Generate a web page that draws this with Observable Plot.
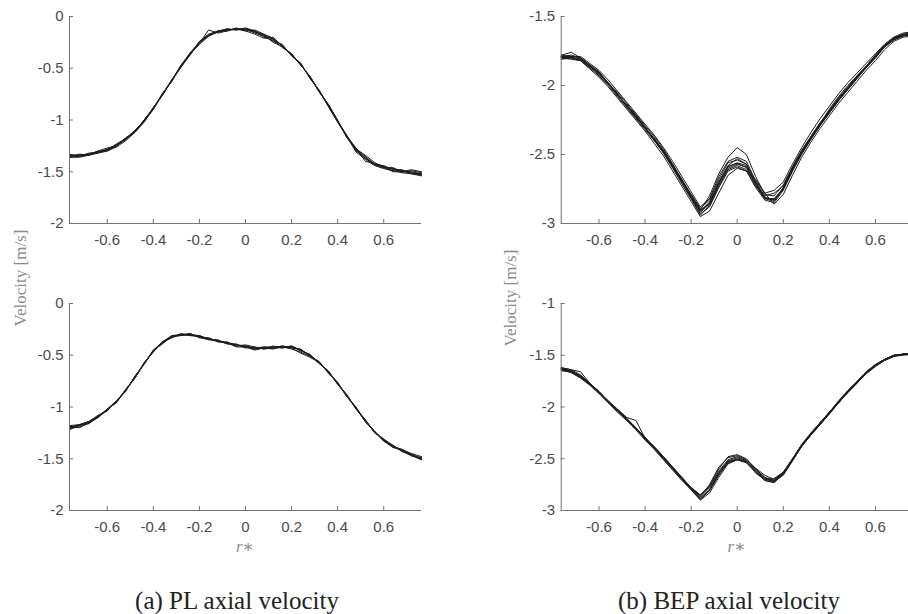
<!DOCTYPE html>
<html>
<head>
<meta charset="utf-8">
<script src="https://cdn.jsdelivr.net/npm/d3@7"></script>
<script src="https://cdn.jsdelivr.net/npm/@observablehq/plot@0.6"></script>
<style>
  html, body { margin: 0; padding: 0; background: #fff; }
  #wrap { position: relative; width: 908px; height: 614px; overflow: hidden; background: #fff; }
  .panel { position: absolute; }
  .lbl { position: absolute; transform: translate(-50%, -50%); white-space: nowrap; line-height: 1; }
  .ylab { font-family: "Liberation Serif", "DejaVu Serif", serif; font-size: 17px; color: #8a8a8a; }
  .xlab { font-family: "Liberation Serif", "DejaVu Serif", serif; font-size: 17px; color: #8a8a8a; }
  .cap { font-family: "Liberation Serif", "DejaVu Serif", serif; font-size: 25px; color: #222; }
</style>
</head>
<body>
<div id="wrap"></div>
<script>
// ---------- data ----------
const rStar = [-0.764,-0.72,-0.68,-0.64,-0.60,-0.56,-0.52,-0.48,-0.44,-0.40,-0.36,-0.32,-0.28,-0.24,-0.20,-0.16,-0.12,-0.08,-0.04,0,0.04,0.08,0.12,0.16,0.20,0.24,0.28,0.32,0.36,0.40,0.44,0.48,0.52,0.56,0.60,0.64,0.68,0.72,0.764];

const xTicks = [-0.6,-0.4,-0.2,0,0.2,0.4,0.6];
const yTicksPL = [0,-0.5,-1,-1.5,-2];
const yTicksBEPTop = [-1.5,-2,-2.5,-3];
const yTicksBEPBottom = [-1,-1.5,-2,-2.5,-3];

// (a) PL axial velocity, top
const plTop = [
  [-1.35,-1.345,-1.335,-1.31,-1.285,-1.25,-1.18,-1.11,-1.01,-0.885,-0.75,-0.62,-0.48,-0.36,-0.245,-0.18,-0.15,-0.13,-0.12,-0.125,-0.145,-0.18,-0.22,-0.28,-0.37,-0.46,-0.59,-0.72,-0.86,-1.01,-1.16,-1.29,-1.37,-1.42,-1.45,-1.47,-1.49,-1.51,-1.52],
  [-1.36,-1.35,-1.33,-1.32,-1.28,-1.26,-1.17,-1.12,-1.00,-0.89,-0.74,-0.63,-0.47,-0.37,-0.24,-0.17,-0.14,-0.12,-0.13,-0.12,-0.16,-0.19,-0.24,-0.27,-0.38,-0.45,-0.60,-0.71,-0.87,-1.02,-1.15,-1.30,-1.36,-1.43,-1.44,-1.48,-1.48,-1.52,-1.53],
  [-1.34,-1.34,-1.34,-1.30,-1.30,-1.24,-1.19,-1.10,-1.02,-0.88,-0.76,-0.61,-0.49,-0.35,-0.26,-0.13,-0.16,-0.14,-0.11,-0.14,-0.17,-0.21,-0.20,-0.29,-0.36,-0.47,-0.58,-0.73,-0.85,-1.00,-1.17,-1.28,-1.34,-1.41,-1.46,-1.46,-1.50,-1.49,-1.51],
  [-1.33,-1.35,-1.32,-1.31,-1.29,-1.23,-1.18,-1.11,-1.01,-0.89,-0.75,-0.62,-0.48,-0.36,-0.27,-0.19,-0.15,-0.12,-0.13,-0.11,-0.14,-0.18,-0.25,-0.29,-0.37,-0.46,-0.59,-0.72,-0.86,-1.01,-1.16,-1.31,-1.38,-1.44,-1.47,-1.49,-1.51,-1.52,-1.54],
  [-1.35,-1.34,-1.33,-1.30,-1.27,-1.25,-1.18,-1.10,-1.01,-0.90,-0.75,-0.61,-0.48,-0.36,-0.25,-0.18,-0.14,-0.13,-0.12,-0.14,-0.13,-0.17,-0.21,-0.28,-0.38,-0.46,-0.59,-0.72,-0.87,-1.02,-1.16,-1.27,-1.40,-1.42,-1.45,-1.50,-1.50,-1.48,-1.50],
  [-1.36,-1.36,-1.34,-1.32,-1.30,-1.26,-1.20,-1.12,-1.02,-0.89,-0.75,-0.62,-0.49,-0.37,-0.25,-0.18,-0.15,-0.13,-0.12,-0.13,-0.15,-0.18,-0.22,-0.28,-0.37,-0.47,-0.58,-0.72,-0.86,-1.01,-1.17,-1.29,-1.37,-1.43,-1.46,-1.47,-1.50,-1.51,-1.53],
  [-1.35,-1.33,-1.34,-1.31,-1.29,-1.24,-1.19,-1.11,-1.00,-0.88,-0.76,-0.62,-0.47,-0.35,-0.25,-0.19,-0.14,-0.14,-0.12,-0.12,-0.14,-0.20,-0.23,-0.30,-0.36,-0.47,-0.58,-0.73,-0.85,-1.01,-1.15,-1.28,-1.35,-1.43,-1.46,-1.49,-1.49,-1.50,-1.52]
];

// (a) PL axial velocity, bottom
const plBottom = [
  [-1.19,-1.18,-1.15,-1.09,-1.03,-0.95,-0.84,-0.71,-0.58,-0.46,-0.38,-0.32,-0.30,-0.30,-0.32,-0.34,-0.36,-0.38,-0.40,-0.42,-0.43,-0.43,-0.42,-0.42,-0.42,-0.45,-0.50,-0.57,-0.66,-0.77,-0.89,-1.01,-1.13,-1.24,-1.32,-1.38,-1.42,-1.46,-1.50],
  [-1.21,-1.19,-1.16,-1.10,-1.02,-0.96,-0.83,-0.72,-0.57,-0.47,-0.37,-0.33,-0.29,-0.31,-0.31,-0.35,-0.35,-0.39,-0.39,-0.43,-0.42,-0.44,-0.41,-0.43,-0.41,-0.46,-0.49,-0.58,-0.65,-0.78,-0.88,-1.02,-1.12,-1.25,-1.31,-1.39,-1.41,-1.47,-1.49],
  [-1.18,-1.17,-1.14,-1.08,-1.04,-0.94,-0.85,-0.70,-0.59,-0.45,-0.39,-0.31,-0.31,-0.29,-0.33,-0.33,-0.37,-0.37,-0.41,-0.41,-0.44,-0.42,-0.43,-0.41,-0.43,-0.44,-0.51,-0.56,-0.67,-0.76,-0.90,-1.00,-1.14,-1.23,-1.33,-1.37,-1.43,-1.45,-1.51],
  [-1.20,-1.18,-1.15,-1.09,-1.03,-0.95,-0.84,-0.71,-0.58,-0.46,-0.37,-0.32,-0.30,-0.30,-0.32,-0.34,-0.36,-0.38,-0.42,-0.42,-0.45,-0.43,-0.44,-0.42,-0.44,-0.47,-0.51,-0.57,-0.66,-0.77,-0.89,-1.01,-1.13,-1.24,-1.32,-1.38,-1.42,-1.46,-1.50],
  [-1.19,-1.20,-1.15,-1.10,-1.03,-0.95,-0.84,-0.71,-0.58,-0.46,-0.38,-0.33,-0.30,-0.31,-0.32,-0.34,-0.37,-0.38,-0.40,-0.41,-0.43,-0.42,-0.42,-0.43,-0.41,-0.45,-0.50,-0.57,-0.67,-0.77,-0.89,-1.02,-1.13,-1.24,-1.31,-1.37,-1.43,-1.47,-1.49],
  [-1.22,-1.17,-1.16,-1.09,-1.02,-0.94,-0.84,-0.72,-0.58,-0.46,-0.38,-0.32,-0.31,-0.30,-0.31,-0.34,-0.36,-0.39,-0.40,-0.42,-0.44,-0.43,-0.43,-0.42,-0.42,-0.45,-0.50,-0.58,-0.66,-0.78,-0.89,-1.01,-1.14,-1.24,-1.32,-1.38,-1.41,-1.45,-1.48],
  [-1.20,-1.17,-1.14,-1.10,-1.02,-0.95,-0.83,-0.72,-0.58,-0.45,-0.37,-0.31,-0.30,-0.29,-0.33,-0.35,-0.36,-0.38,-0.41,-0.40,-0.42,-0.44,-0.43,-0.41,-0.43,-0.48,-0.52,-0.57,-0.67,-0.77,-0.90,-1.01,-1.14,-1.24,-1.33,-1.39,-1.42,-1.47,-1.51]
];

// (b) BEP axial velocity, top
const bepTop = [
  [-1.795,-1.80,-1.81,-1.86,-1.91,-1.985,-2.065,-2.145,-2.225,-2.305,-2.39,-2.475,-2.585,-2.69,-2.805,-2.91,-2.845,-2.70,-2.585,-2.565,-2.595,-2.715,-2.815,-2.83,-2.74,-2.605,-2.485,-2.38,-2.28,-2.19,-2.10,-2.02,-1.94,-1.865,-1.79,-1.715,-1.66,-1.635,-1.625],
  [-1.79,-1.78,-1.80,-1.85,-1.92,-1.98,-2.07,-2.14,-2.23,-2.30,-2.40,-2.47,-2.59,-2.68,-2.81,-2.90,-2.80,-2.64,-2.52,-2.45,-2.50,-2.66,-2.79,-2.80,-2.72,-2.59,-2.47,-2.37,-2.27,-2.18,-2.09,-2.01,-1.93,-1.86,-1.78,-1.71,-1.65,-1.63,-1.62],
  [-1.80,-1.81,-1.82,-1.87,-1.93,-2.00,-2.08,-2.16,-2.24,-2.32,-2.40,-2.49,-2.60,-2.71,-2.82,-2.93,-2.88,-2.74,-2.62,-2.59,-2.62,-2.74,-2.83,-2.85,-2.76,-2.62,-2.50,-2.39,-2.29,-2.20,-2.11,-2.03,-1.95,-1.87,-1.80,-1.72,-1.67,-1.64,-1.63],
  [-1.78,-1.76,-1.80,-1.86,-1.90,-1.99,-2.06,-2.15,-2.21,-2.31,-2.38,-2.48,-2.57,-2.70,-2.79,-2.89,-2.83,-2.68,-2.56,-2.54,-2.57,-2.70,-2.80,-2.78,-2.73,-2.60,-2.48,-2.37,-2.27,-2.19,-2.10,-2.02,-1.94,-1.86,-1.79,-1.71,-1.66,-1.63,-1.62],
  [-1.81,-1.80,-1.82,-1.87,-1.92,-1.99,-2.06,-2.15,-2.23,-2.31,-2.39,-2.49,-2.59,-2.71,-2.82,-2.94,-2.87,-2.73,-2.61,-2.58,-2.61,-2.73,-2.82,-2.84,-2.75,-2.62,-2.49,-2.39,-2.29,-2.20,-2.11,-2.03,-1.95,-1.87,-1.80,-1.72,-1.67,-1.64,-1.63],
  [-1.80,-1.80,-1.81,-1.86,-1.91,-1.98,-2.07,-2.14,-2.22,-2.30,-2.39,-2.47,-2.58,-2.69,-2.80,-2.91,-2.85,-2.70,-2.58,-2.53,-2.57,-2.70,-2.81,-2.83,-2.74,-2.59,-2.47,-2.37,-2.28,-2.17,-2.08,-2.00,-1.93,-1.86,-1.78,-1.71,-1.66,-1.64,-1.62],
  [-1.79,-1.79,-1.80,-1.85,-1.90,-1.98,-2.05,-2.13,-2.21,-2.29,-2.37,-2.46,-2.57,-2.68,-2.79,-2.90,-2.86,-2.72,-2.60,-2.57,-2.59,-2.71,-2.82,-2.82,-2.75,-2.61,-2.49,-2.38,-2.28,-2.19,-2.09,-2.02,-1.94,-1.87,-1.79,-1.72,-1.66,-1.63,-1.62],
  [-1.80,-1.80,-1.81,-1.86,-1.91,-1.99,-2.07,-2.15,-2.23,-2.31,-2.39,-2.48,-2.59,-2.69,-2.81,-2.92,-2.86,-2.71,-2.59,-2.56,-2.58,-2.72,-2.81,-2.83,-2.75,-2.61,-2.48,-2.38,-2.28,-2.19,-2.11,-2.02,-1.94,-1.87,-1.79,-1.72,-1.66,-1.63,-1.63],
  [-1.79,-1.79,-1.82,-1.88,-1.94,-2.01,-2.09,-2.17,-2.25,-2.33,-2.42,-2.51,-2.62,-2.73,-2.84,-2.95,-2.91,-2.78,-2.65,-2.60,-2.62,-2.68,-2.78,-2.86,-2.79,-2.65,-2.52,-2.41,-2.31,-2.22,-2.13,-2.05,-1.97,-1.89,-1.82,-1.74,-1.68,-1.65,-1.64],
  [-1.78,-1.79,-1.79,-1.84,-1.89,-1.96,-2.04,-2.12,-2.20,-2.28,-2.36,-2.45,-2.55,-2.66,-2.77,-2.88,-2.82,-2.66,-2.55,-2.52,-2.55,-2.69,-2.78,-2.76,-2.70,-2.57,-2.45,-2.34,-2.24,-2.15,-2.06,-1.98,-1.91,-1.84,-1.77,-1.70,-1.65,-1.62,-1.61]
];

// (b) BEP axial velocity, bottom
const bepBottom = [
  [-1.63,-1.65,-1.70,-1.775,-1.855,-1.945,-2.03,-2.11,-2.205,-2.30,-2.39,-2.49,-2.59,-2.69,-2.785,-2.87,-2.78,-2.63,-2.52,-2.49,-2.52,-2.61,-2.69,-2.71,-2.64,-2.51,-2.37,-2.26,-2.16,-2.055,-1.95,-1.85,-1.76,-1.665,-1.595,-1.54,-1.505,-1.49,-1.485],
  [-1.62,-1.64,-1.66,-1.77,-1.85,-1.94,-2.02,-2.10,-2.13,-2.30,-2.38,-2.48,-2.58,-2.68,-2.78,-2.85,-2.76,-2.60,-2.48,-2.46,-2.50,-2.60,-2.68,-2.71,-2.63,-2.50,-2.36,-2.25,-2.15,-2.05,-1.94,-1.84,-1.75,-1.66,-1.59,-1.54,-1.50,-1.49,-1.48],
  [-1.64,-1.66,-1.71,-1.78,-1.86,-1.95,-2.04,-2.12,-2.21,-2.31,-2.40,-2.50,-2.60,-2.70,-2.79,-2.89,-2.81,-2.66,-2.54,-2.51,-2.54,-2.63,-2.71,-2.73,-2.65,-2.52,-2.38,-2.27,-2.17,-2.06,-1.96,-1.86,-1.77,-1.67,-1.60,-1.55,-1.51,-1.49,-1.49],
  [-1.63,-1.65,-1.70,-1.78,-1.85,-1.95,-2.03,-2.11,-2.20,-2.30,-2.39,-2.49,-2.59,-2.69,-2.78,-2.86,-2.75,-2.58,-2.49,-2.47,-2.51,-2.59,-2.66,-2.70,-2.64,-2.51,-2.37,-2.26,-2.16,-2.05,-1.95,-1.85,-1.76,-1.66,-1.59,-1.54,-1.50,-1.49,-1.48],
  [-1.65,-1.66,-1.71,-1.77,-1.86,-1.94,-2.03,-2.11,-2.21,-2.30,-2.39,-2.49,-2.59,-2.69,-2.79,-2.88,-2.80,-2.65,-2.53,-2.50,-2.53,-2.62,-2.70,-2.72,-2.64,-2.51,-2.37,-2.26,-2.16,-2.06,-1.95,-1.85,-1.76,-1.67,-1.60,-1.54,-1.51,-1.49,-1.49],
  [-1.62,-1.64,-1.69,-1.77,-1.85,-1.95,-2.03,-2.11,-2.20,-2.29,-2.39,-2.48,-2.58,-2.68,-2.78,-2.85,-2.77,-2.62,-2.51,-2.48,-2.52,-2.64,-2.70,-2.69,-2.63,-2.50,-2.37,-2.26,-2.15,-2.05,-1.95,-1.85,-1.76,-1.66,-1.60,-1.54,-1.50,-1.49,-1.48],
  [-1.64,-1.67,-1.72,-1.78,-1.86,-1.95,-2.04,-2.12,-2.21,-2.30,-2.40,-2.50,-2.60,-2.70,-2.80,-2.89,-2.80,-2.64,-2.53,-2.51,-2.53,-2.62,-2.71,-2.73,-2.65,-2.51,-2.38,-2.27,-2.17,-2.06,-1.96,-1.86,-1.77,-1.67,-1.60,-1.55,-1.51,-1.49,-1.49],
  [-1.63,-1.66,-1.72,-1.79,-1.87,-1.96,-2.05,-2.13,-2.22,-2.32,-2.41,-2.51,-2.61,-2.71,-2.80,-2.90,-2.83,-2.68,-2.55,-2.51,-2.53,-2.60,-2.68,-2.72,-2.66,-2.52,-2.38,-2.27,-2.17,-2.07,-1.96,-1.86,-1.77,-1.68,-1.61,-1.55,-1.51,-1.50,-1.49]
];

const yLabelText = "Velocity [m/s]";
const captions = ["(a) PL axial velocity", "(b) BEP axial velocity"];

// ---------- drawing ----------
function toRows(runs) {
  const rows = [];
  runs.forEach((vals, k) => vals.forEach((v, i) => rows.push({r: rStar[i], v, run: k})));
  return rows;
}

const xDomain = [-0.764, 0.764];
const AXIS = "#737373";
const TXT = "#4a4a4a";

function panel(runs, yDomain, yTicks, {left, top, width, marginLeft, marginRight}) {
  const p = Plot.plot({
    width, height: 280,
    marginLeft, marginRight, marginTop: 16, marginBottom: 57,
    x: {domain: xDomain},
    y: {domain: yDomain},
    style: {fontFamily: "'Liberation Sans', Arial, sans-serif", fontSize: "15px", color: TXT, background: "transparent", overflow: "visible"},
    marks: [
      Plot.line(toRows(runs), {x: "r", y: "v", z: "run", stroke: "#1c1c1c", strokeWidth: 1}),
      Plot.ruleY([yDomain[0]], {stroke: AXIS, strokeWidth: 1}),
      Plot.ruleX([xDomain[0]], {stroke: AXIS, strokeWidth: 1}),
      Plot.axisX(xTicks, {tickSize: -4, tickPadding: 15, stroke: AXIS, fill: TXT, tickFormat: d => String(d), label: null}),
      Plot.axisY(yTicks, {tickSize: -4, tickPadding: 10, stroke: AXIS, fill: TXT, tickFormat: d => String(d), label: null})
    ]
  });
  p.classList.add("panel");
  p.style.left = left + "px";
  p.style.top = top + "px";
  return p;
}

const wrap = document.getElementById("wrap");
const L = {width: 454, marginLeft: 69, marginRight: 33};
const R = {width: 460, marginLeft: 106.7, marginRight: 1.3};
wrap.appendChild(panel(plTop, [-2, 0], yTicksPL, {...L, left: 0, top: 0}));
wrap.appendChild(panel(plBottom, [-2, 0], yTicksPL, {...L, left: 0, top: 287.3}));
wrap.appendChild(panel(bepTop, [-3, -1.5], yTicksBEPTop, {...R, left: 454, top: 0}));
wrap.appendChild(panel(bepBottom, [-3, -1], yTicksBEPBottom, {...R, left: 454, top: 287.3}));

function label(cls, html, x, y, rot) {
  const d = document.createElement("div");
  d.className = "lbl " + cls;
  d.innerHTML = html;
  d.style.left = x + "px";
  d.style.top = y + "px";
  if (rot) d.style.transform = "translate(-50%, -50%) rotate(-90deg)";
  wrap.appendChild(d);
}
label("ylab", yLabelText, 20, 278, true);
label("ylab", yLabelText, 510, 298, true);
label("xlab", "<i>r</i>∗", 245, 546);
label("xlab", "<i>r</i>∗", 736.7, 546);
label("cap", captions[0], 237, 600);
label("cap", captions[1], 729, 600);
</script>
</body>
</html>
